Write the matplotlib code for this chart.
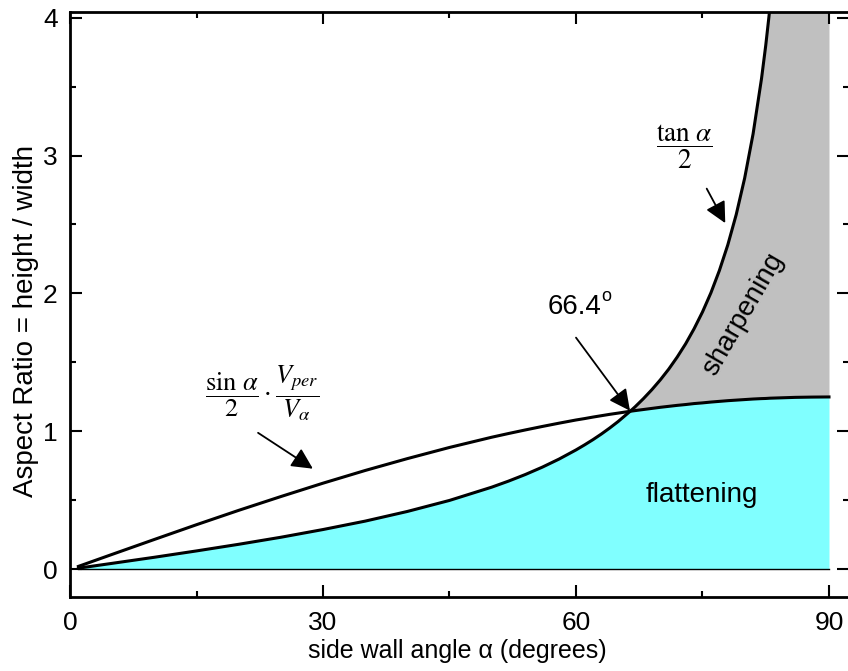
import numpy as np
import matplotlib
matplotlib.use('Agg')
import matplotlib.pyplot as plt

plt.rcParams['font.family'] = ['Liberation Sans', 'DejaVu Sans']
plt.rcParams['mathtext.fontset'] = 'stix'

# side wall angle (degrees)
angle = [1, 5, 10, 15, 20, 25, 30, 35, 40, 45, 50, 52, 54, 56, 58, 60, 61,
         62, 63, 64, 65, 66.4, 67, 68, 69, 70, 71, 72, 73, 74, 75, 76, 77,
         78, 79, 80, 81, 82, 82.5, 83, 84, 86, 88, 90]
# aspect ratio, upper curve  sin(a)/2 * Vper/Va
ar_sin = [0.022, 0.109, 0.217, 0.324, 0.428, 0.528, 0.625, 0.717, 0.803,
          0.884, 0.958, 0.985, 1.011, 1.036, 1.060, 1.083, 1.093, 1.104,
          1.114, 1.124, 1.133, 1.146, 1.151, 1.159, 1.167, 1.175, 1.182,
          1.189, 1.195, 1.202, 1.207, 1.213, 1.218, 1.223, 1.227, 1.231,
          1.235, 1.238, 1.239, 1.241, 1.243, 1.247, 1.249, 1.250]
# aspect ratio, tan(a)/2
ar_tan = [0.009, 0.044, 0.088, 0.134, 0.182, 0.233, 0.289, 0.350, 0.420,
          0.500, 0.596, 0.640, 0.688, 0.741, 0.800, 0.866, 0.902, 0.940,
          0.981, 1.025, 1.072, 1.145, 1.178, 1.238, 1.303, 1.374, 1.452,
          1.539, 1.635, 1.744, 1.866, 2.005, 2.166, 2.352, 2.572, 2.836,
          3.157, 3.558, 3.798, 4.072, 4.757, 7.150, 14.32, np.inf]
cross_angle = 66.4

x = np.array(angle)
a = np.array(ar_sin)
t = np.array(ar_tan)
ytop = 4.04

fig = plt.figure(figsize=(8.48, 6.71), dpi=100)
ax = fig.add_axes([0.08255, 0.11028, 0.9189, 0.8718])

# flattening region (cyan) and sharpening region (grey)
ax.fill_between(x, 0, np.minimum(a, t), color='#80FFFF', lw=0)
ax.fill_between(x, a, np.minimum(t, ytop), where=t >= a, interpolate=True,
                color='#C0C0C0', lw=0)

ax.plot(x, a, color='k', lw=2.2)
ax.plot(x, np.ma.masked_invalid(t), color='k', lw=2.2)
ax.plot([x[0], x[-1]], [0, 0], color='k', lw=1)

ax.set_xlim(0, 92.4)
ax.set_ylim(-0.2, ytop)
ax.set_xticks([0, 30, 60, 90])
ax.set_xticks([15, 45, 75], minor=True)
ax.set_yticks([0, 1, 2, 3, 4])
ax.set_yticks([0.5, 1.5, 2.5, 3.5], minor=True)
ax.tick_params(which='both', direction='in', top=True, right=True,
               width=1.5, labelsize=19)
ax.tick_params(which='major', length=8.6)
ax.tick_params(which='minor', length=4.3)
ax.tick_params(axis='x', pad=10)
ax.tick_params(axis='y', pad=9)
for s in ax.spines.values():
    s.set_linewidth(2)

ax.set_xlabel('side wall angle α (degrees)', fontsize=18)
ax.set_ylabel('Aspect Ratio = height / width', fontsize=20)
ax.xaxis.set_label_coords(0.497, -0.072)
ax.yaxis.set_label_coords(-0.04, 0.472)

arrow = dict(arrowstyle='-|>', color='k', lw=1.3, mutation_scale=32,
             shrinkA=0, shrinkB=0)

# 66.4 with a small raised "o"
ax.text(59.85, 1.90, '66.4', fontsize=20, ha='center', va='center')
ax.text(63.0, 1.98, 'o', fontsize=13, ha='left', va='center')
ax.annotate('', xy=(cross_angle, 1.15), xytext=(60.0, 1.68),
            arrowprops=arrow)

ax.text(72.8, 3.06, r'$\dfrac{\tan\,\alpha}{2}$', fontsize=19.5,
        ha='center', va='center')
ax.annotate('', xy=(77.7, 2.51), xytext=(75.5, 2.76), arrowprops=arrow)

ax.text(22.8, 1.275, r'$\dfrac{\sin\,\alpha}{2}\cdot\dfrac{V_{per}}{V_{\alpha}}$',
        fontsize=19, ha='center', va='center')
ax.annotate('', xy=(28.8, 0.73), xytext=(22.3, 0.99), arrowprops=arrow)

ax.text(79.8, 1.85, 'sharpening', fontsize=20, rotation=60,
        ha='center', va='center')
ax.text(74.9, 0.54, 'flattening', fontsize=20, ha='center', va='center')

fig.savefig('out.png', dpi=100)
